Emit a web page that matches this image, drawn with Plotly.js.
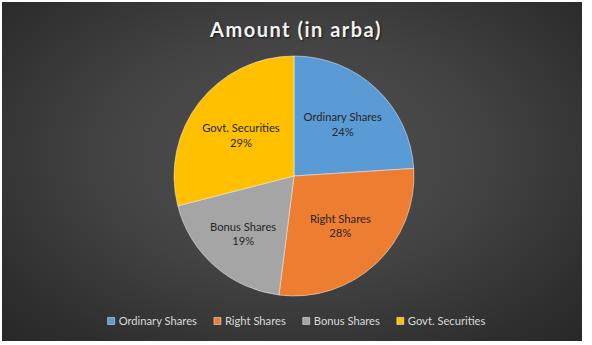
<!DOCTYPE html>
<html>
<head>
<meta charset="utf-8">
<script src="https://cdn.plot.ly/plotly-3.0.1.min.js"></script>
<style>
  html, body { margin: 0; padding: 0; background: #ffffff; }
  #bg { position: absolute; left: 2px; top: 2px; width: 580px; height: 339px;
        background: radial-gradient(ellipse at 50% 45%, #515151 0%, #434343 45%, #2e2e2e 85%, #282828 100%); }
  #chart { position: absolute; left: 0; top: 0; width: 592px; height: 345px; }
</style>
</head>
<body>
<div id="bg"></div>
<div id="chart"></div>
<script>
const categories = ["Ordinary Shares", "Right Shares", "Bonus Shares", "Govt. Securities"];
const shares = [24, 28, 19, 29];
const sliceColors = ["#5B9BD5", "#ED7D31", "#A5A5A5", "#FFC000"];
const chartTitle = "Amount (in arba)";

const W = 592, H = 345;
const cx = 294, cy = 176, r = 120;
const FONT = "Lato, 'Noto Sans', sans-serif";

const trace = {
  type: "pie",
  labels: categories,
  values: shares,
  sort: false,
  direction: "clockwise",
  rotation: 0,
  marker: { colors: sliceColors, line: { color: "rgba(255,255,255,0.6)", width: 0.8 } },
  texttemplate: "%{label}<br>%{percent:.0%}",
  textposition: "inside",
  insidetextorientation: "horizontal",
  insidetextfont: { family: FONT, size: 11.2, color: "#262626" },
  hoverinfo: "none",
  domain: { x: [(cx - r) / W, (cx + r) / W], y: [(H - cy - r) / H, (H - cy + r) / H] }
};

const layout = {
  width: W, height: H,
  margin: { l: 0, r: 0, t: 0, b: 0 },
  paper_bgcolor: "rgba(0,0,0,0)",
  plot_bgcolor: "rgba(0,0,0,0)",
  title: {
    text: chartTitle,
    x: 0.5, xanchor: "center",
    y: 1 - 30 / H, yanchor: "middle",
    font: { family: FONT, size: 20, weight: 700, color: "#f2f2f2",
            shadow: "1px 1px 2px rgba(0,0,0,0.7)" }
  },
  showlegend: true,
  legend: {
    orientation: "h",
    x: 0.5, xanchor: "center",
    y: (H - 321) / H, yanchor: "middle",
    font: { family: FONT, size: 11.2, color: "#d9d9d9" },
    bgcolor: "rgba(0,0,0,0)",
    itemclick: false, itemdoubleclick: false,
    traceorder: "normal"
  }
};

Plotly.newPlot("chart", [trace], layout, { displayModeBar: false, staticPlot: true }).then(() => {
  const t = document.querySelector(".gtitle");
  if (t) t.style.letterSpacing = "1.5px";

  // compact Excel-like legend spacing
  const items = Array.from(document.querySelectorAll(".legend .traces"));
  const symW = 7, gap1 = 4, gap2 = 17, centerX = 296.5;
  items.forEach(g => {
    g.querySelectorAll(".legendpoints path").forEach(p => p.setAttribute("d", "M3.5,3.5H-3.5V-3.5H3.5Z"));
  });
  const widths = items.map(g => g.querySelector(".legendtext").getComputedTextLength());
  const total = widths.reduce((a, w) => a + symW + gap1 + w, 0) + gap2 * (items.length - 1);
  let x = centerX - total / 2;
  items.forEach((g, i) => {
    const path = g.querySelector(".legendpoints path");
    const txt = g.querySelector(".legendtext");
    const rb = path.getBoundingClientRect();
    const curCenter = rb.left + rb.width / 2;
    const desired = x + symW / 2;
    const tr = g.getAttribute("transform") || "translate(0,0)";
    const m = tr.match(/translate\(\s*([-\d.e]+)[ ,]+([-\d.e]+)\s*\)/);
    const tx = m ? parseFloat(m[1]) : 0, ty = m ? parseFloat(m[2]) : 0;
    g.setAttribute("transform", "translate(" + (tx + desired - curCenter) + "," + ty + ")");
    // text position relative to symbol
    const rb2 = path.getBoundingClientRect();
    const tb = txt.getBoundingClientRect();
    const curTextX = parseFloat(txt.getAttribute("x")) || 0;
    const wantLeft = rb2.left + rb2.width + gap1;
    txt.setAttribute("x", curTextX + (wantLeft - tb.left));
    x += symW + gap1 + widths[i] + gap2;
  });
});
</script>
</body>
</html>
